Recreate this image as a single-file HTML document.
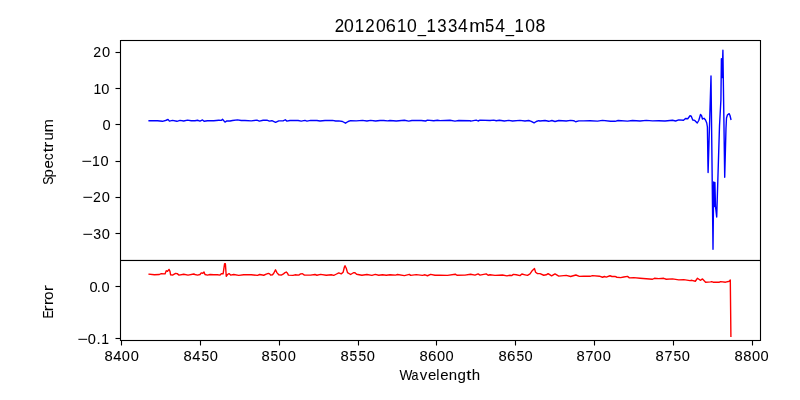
<!DOCTYPE html><html><head><meta charset="utf-8"><title>20120610_1334m54_108</title><style>html,body{margin:0;padding:0;background:#fff;}svg{display:block;will-change:transform;}text{font-family:"Liberation Sans",sans-serif;fill:#000;stroke:#000;stroke-width:0.05px;}</style></head><body>
<svg width="800" height="400" viewBox="0 0 800 400">
<rect x="0" y="0" width="800" height="400" fill="#fff"/>
<defs><clipPath id="c1"><rect x="120" y="40" width="640" height="220"/></clipPath><clipPath id="c2"><rect x="120" y="260" width="640" height="80"/></clipPath></defs>
<polyline clip-path="url(#c1)" points="149.09,120.70 157.50,120.70 162.50,121.30 166.25,120.25 168.00,119.40 169.40,121.10 172.50,120.40 176.90,121.30 180.00,120.40 183.75,121.00 187.50,120.10 191.25,120.70 195.00,120.70 197.50,120.25 200.00,121.10 202.50,119.90 204.10,121.30 207.50,120.70 213.75,120.70 218.75,120.25 221.25,120.40 222.50,119.25 225.00,122.10 226.90,120.90 230.00,121.00 232.50,120.50 237.50,119.90 241.25,120.50 245.00,120.50 251.25,120.90 256.90,120.10 259.40,121.10 263.10,120.25 266.90,120.10 269.40,121.10 271.90,120.70 275.60,122.40 278.75,120.90 283.10,120.90 285.30,119.75 286.90,121.10 290.00,120.50 295.00,120.50 298.10,120.50 301.25,121.10 305.00,120.40 306.90,121.10 310.60,120.40 316.90,120.50 320.00,121.00 325.00,120.50 332.50,120.40 335.60,121.00 338.75,120.90 342.50,121.50 345.50,123.20 348.10,121.50 350.60,120.70 356.25,120.90 362.50,120.40 366.90,121.00 370.60,120.40 375.60,121.00 380.00,120.50 383.75,120.50 387.50,120.90 390.00,120.50 396.25,121.00 404.40,120.25 408.75,121.10 411.90,120.50 421.25,120.50 425.60,121.00 427.50,120.10 433.75,120.70 437.50,120.25 440.00,120.60 450.00,120.25 455.00,121.10 458.75,120.50 470.00,120.70 470.60,121.10 476.25,120.10 478.10,121.00 480.00,120.10 490.00,120.50 493.75,120.10 496.25,120.70 499.40,120.25 504.40,121.00 508.75,120.40 512.50,121.00 520.00,120.40 525.00,121.00 528.75,120.50 531.25,121.30 534.10,122.90 536.25,121.50 538.75,120.70 540.00,121.00 545.00,120.50 548.75,121.30 551.90,120.50 555.00,121.50 558.75,120.50 566.25,121.00 570.60,120.40 573.75,120.70 575.60,121.75 578.75,120.90 583.75,120.90 590.00,120.70 597.50,121.10 602.50,120.40 610.60,121.30 615.00,121.30 618.10,120.50 627.50,121.10 632.50,120.50 640.00,120.95 646.25,120.40 652.50,120.90 658.75,120.70 665.00,121.00 672.50,120.25 675.60,121.00 678.75,119.90 683.50,120.25 685.50,118.50 687.75,118.75 690.00,115.75 691.25,116.25 692.75,120.00 694.75,120.40 697.25,123.00 698.75,120.50 700.50,114.50 701.50,115.50 702.50,119.00 704.00,118.25 705.50,120.00 706.75,123.00 707.40,127.00 707.60,140.00 707.90,162.00 708.10,172.60 711.00,76.00 713.00,249.30 713.70,182.00 714.30,206.50 714.90,182.50 715.50,206.50 716.70,217.00 719.50,126.00 720.90,100.00 721.40,58.80 722.10,77.50 722.90,50.30 724.70,177.30 726.00,128.00 726.50,118.00 727.50,114.80 729.20,113.70 730.00,115.50 730.91,119.30" fill="none" stroke="#0000ff" stroke-width="1.39" stroke-linejoin="round" stroke-linecap="square"/>
<polyline clip-path="url(#c2)" points="149.09,274.20 154.40,274.80 159.40,274.50 161.25,273.60 165.00,273.90 166.25,270.75 167.50,271.40 169.00,269.40 170.00,271.40 170.60,274.80 172.50,275.10 175.60,273.40 177.20,273.60 179.00,275.10 183.75,274.20 188.00,275.10 193.75,274.00 195.00,274.50 197.50,275.10 200.00,274.50 201.25,272.90 202.80,273.25 204.00,272.00 205.00,274.50 207.50,275.10 210.00,274.50 213.75,274.80 217.50,274.80 220.00,275.10 221.60,273.60 223.10,273.90 224.60,263.64 225.40,263.70 226.25,276.30 227.50,274.50 229.00,273.60 230.60,275.10 233.75,274.50 238.75,275.40 243.75,274.80 251.25,274.80 257.50,275.40 259.70,274.50 263.75,275.25 266.25,274.20 268.40,273.40 269.70,273.90 270.60,275.10 272.50,274.80 273.75,273.25 275.50,269.80 276.90,272.60 278.75,274.80 281.25,275.10 283.10,274.20 284.70,272.90 286.25,272.00 287.50,273.25 288.40,275.10 293.00,275.40 295.00,274.80 298.75,275.10 300.60,273.90 302.50,273.75 304.40,275.10 310.60,275.10 315.00,274.50 316.90,275.25 320.60,274.40 326.25,275.25 331.25,274.80 333.75,275.40 335.60,274.50 338.75,272.90 341.25,273.90 343.10,272.30 344.40,267.00 345.00,265.75 346.25,268.25 347.50,272.60 350.60,274.50 353.40,272.75 355.00,272.75 356.60,274.20 361.90,275.25 366.90,274.50 371.90,275.40 375.30,274.40 378.75,275.25 382.50,274.80 386.25,275.25 390.00,274.80 395.60,275.10 397.50,274.50 404.40,275.60 409.40,274.40 410.60,275.40 416.25,274.60 422.50,275.40 425.00,274.80 427.50,275.75 430.60,274.40 435.00,275.25 440.00,275.30 447.50,275.40 455.30,274.20 456.90,275.25 465.00,275.10 470.60,274.20 475.00,275.10 478.10,273.90 480.00,275.10 486.25,273.90 488.10,275.25 490.00,274.80 495.00,275.40 502.50,275.00 506.90,275.90 510.00,275.25 511.60,275.60 513.40,274.40 516.25,274.80 520.00,275.60 521.90,274.00 525.00,274.80 527.50,275.40 530.00,273.90 531.90,271.10 534.50,268.60 535.60,272.30 537.50,273.60 540.00,273.60 543.75,275.25 546.25,274.80 548.10,273.60 551.60,275.90 555.00,273.90 558.75,276.10 566.25,275.40 570.60,276.50 575.90,275.00 579.40,276.40 583.75,276.10 590.00,276.30 592.50,275.60 599.40,276.20 602.50,277.25 604.40,276.50 606.25,277.10 610.00,275.75 611.90,276.50 615.00,276.40 616.90,277.25 620.60,277.60 623.75,277.00 627.50,276.40 629.40,277.90 633.75,277.60 640.00,278.20 646.25,278.75 652.50,279.25 654.40,278.30 658.75,278.60 663.75,278.30 666.25,279.25 672.50,278.90 678.75,279.90 683.75,279.60 690.00,280.60 691.90,280.30 695.30,281.25 697.50,278.25 700.30,280.30 702.50,278.90 705.60,282.20 710.60,281.90 711.60,281.60 713.10,282.20 719.40,282.20 720.60,281.60 725.60,282.20 729.40,281.25 730.30,280.00 730.91,336.36" fill="none" stroke="#ff0000" stroke-width="1.39" stroke-linejoin="round" stroke-linecap="square"/>
<path d="M119.9445 40.5H761.0556M119.9445 260.5H761.0556M120.5 39.9445V261.0555M760.5 39.9445V261.0555M119.9445 260.5H761.0556M119.9445 340.5H761.0556M120.5 259.9445V341.0555M760.5 259.9445V341.0555" fill="none" stroke="#000" stroke-width="1.1111" stroke-linecap="butt"/>
<g fill="#000"><rect x="121" y="39" width="639" height="1" fill-opacity="0.055"/><rect x="121" y="41" width="639" height="1" fill-opacity="0.055"/><rect x="121" y="259" width="639" height="1" fill-opacity="0.11"/><rect x="121" y="261" width="639" height="1" fill-opacity="0.055"/><rect x="121" y="339" width="639" height="1" fill-opacity="0.055"/><rect x="121" y="341" width="639" height="1" fill-opacity="0.055"/><rect x="115.5" y="51" width="4.5" height="1" fill-opacity="0.055"/><rect x="115.5" y="53" width="4.5" height="1" fill-opacity="0.055"/><rect x="115.5" y="87" width="4.5" height="1" fill-opacity="0.055"/><rect x="115.5" y="89" width="4.5" height="1" fill-opacity="0.055"/><rect x="115.5" y="123" width="4.5" height="1" fill-opacity="0.055"/><rect x="115.5" y="125" width="4.5" height="1" fill-opacity="0.055"/><rect x="115.5" y="160" width="4.5" height="1" fill-opacity="0.055"/><rect x="115.5" y="162" width="4.5" height="1" fill-opacity="0.055"/><rect x="115.5" y="196" width="4.5" height="1" fill-opacity="0.055"/><rect x="115.5" y="198" width="4.5" height="1" fill-opacity="0.055"/><rect x="115.5" y="232" width="4.5" height="1" fill-opacity="0.055"/><rect x="115.5" y="234" width="4.5" height="1" fill-opacity="0.055"/><rect x="115.5" y="285" width="4.5" height="1" fill-opacity="0.055"/><rect x="115.5" y="287" width="4.5" height="1" fill-opacity="0.055"/><rect x="115.5" y="337" width="4.5" height="1" fill-opacity="0.055"/><rect x="115.5" y="339" width="4.5" height="1" fill-opacity="0.055"/></g>
<path d="M115.5 52.5H120.5M115.5 88.5H120.5M115.5 124.5H120.5M115.5 161.5H120.5M115.5 197.5H120.5M115.5 233.5H120.5M115.5 286.5H120.5M115.5 338.5H120.5M121.5 340.5V345.5M200.5 340.5V345.5M279.5 340.5V345.5M358.5 340.5V345.5M436.5 340.5V345.5M515.5 340.5V345.5M594.5 340.5V345.5M673.5 340.5V345.5M752.5 340.5V345.5" fill="none" stroke="#000" stroke-width="1.1111" stroke-linecap="butt"/>
<text y="32.00" font-size="17.66"><tspan x="334.63" y="32.00" textLength="9.42" lengthAdjust="spacingAndGlyphs">2</tspan><tspan x="343.99" y="32.00" textLength="9.77" lengthAdjust="spacingAndGlyphs">0</tspan><tspan x="354.65" y="32.00" textLength="9.33" lengthAdjust="spacingAndGlyphs">1</tspan><tspan x="365.20" y="32.00" textLength="9.42" lengthAdjust="spacingAndGlyphs">2</tspan><tspan x="375.99" y="32.00" textLength="9.77" lengthAdjust="spacingAndGlyphs">0</tspan><tspan x="385.84" y="32.00" textLength="10.11" lengthAdjust="spacingAndGlyphs">6</tspan><tspan x="396.93" y="32.00" textLength="9.33" lengthAdjust="spacingAndGlyphs">1</tspan><tspan x="406.91" y="32.00" textLength="9.77" lengthAdjust="spacingAndGlyphs">0</tspan><tspan x="417.63" y="32.00" textLength="8.27" lengthAdjust="spacingAndGlyphs">_</tspan><tspan x="426.57" y="32.00" textLength="9.33" lengthAdjust="spacingAndGlyphs">1</tspan><tspan x="437.36" y="32.00" textLength="9.39" lengthAdjust="spacingAndGlyphs">3</tspan><tspan x="447.96" y="32.00" textLength="9.39" lengthAdjust="spacingAndGlyphs">3</tspan><tspan x="457.92" y="32.00" textLength="9.77" lengthAdjust="spacingAndGlyphs">4</tspan><tspan x="469.37" y="32.00" textLength="15.82" lengthAdjust="spacingAndGlyphs">m</tspan><tspan x="485.09" y="32.00" textLength="9.22" lengthAdjust="spacingAndGlyphs">5</tspan><tspan x="495.25" y="32.00" textLength="9.77" lengthAdjust="spacingAndGlyphs">4</tspan><tspan x="505.63" y="32.00" textLength="8.27" lengthAdjust="spacingAndGlyphs">_</tspan><tspan x="514.57" y="32.00" textLength="9.33" lengthAdjust="spacingAndGlyphs">1</tspan><tspan x="525.33" y="32.00" textLength="9.77" lengthAdjust="spacingAndGlyphs">0</tspan><tspan x="535.44" y="32.00" textLength="9.88" lengthAdjust="spacingAndGlyphs">8</tspan></text>
<text y="380.00" font-size="14.6"><tspan x="399.50" y="380.00" textLength="12.93" lengthAdjust="spacingAndGlyphs">W</tspan><tspan x="411.54" y="380.00" textLength="6.95" lengthAdjust="spacingAndGlyphs">a</tspan><tspan x="419.88" y="380.00" textLength="7.50" lengthAdjust="spacingAndGlyphs">v</tspan><tspan x="428.04" y="380.00" textLength="8.34" lengthAdjust="spacingAndGlyphs">e</tspan><tspan x="436.31" y="380.00" textLength="3.15" lengthAdjust="spacingAndGlyphs">l</tspan><tspan x="440.31" y="380.00" textLength="8.34" lengthAdjust="spacingAndGlyphs">e</tspan><tspan x="448.77" y="380.00" textLength="8.33" lengthAdjust="spacingAndGlyphs">n</tspan><tspan x="457.61" y="380.00" textLength="8.40" lengthAdjust="spacingAndGlyphs">g</tspan><tspan x="466.21" y="380.00" textLength="5.16" lengthAdjust="spacingAndGlyphs">t</tspan><tspan x="471.70" y="380.00" textLength="8.39" lengthAdjust="spacingAndGlyphs">h</tspan></text>
<text transform="rotate(-90)" y="53.00" font-size="14.6"><tspan x="-184.77" y="53.00" textLength="8.26" lengthAdjust="spacingAndGlyphs">S</tspan><tspan x="-177.62" y="53.00" textLength="8.40" lengthAdjust="spacingAndGlyphs">p</tspan><tspan x="-168.50" y="53.00" textLength="8.34" lengthAdjust="spacingAndGlyphs">e</tspan><tspan x="-160.21" y="53.00" textLength="6.97" lengthAdjust="spacingAndGlyphs">c</tspan><tspan x="-152.47" y="53.00" textLength="5.16" lengthAdjust="spacingAndGlyphs">t</tspan><tspan x="-147.80" y="53.00" textLength="5.93" lengthAdjust="spacingAndGlyphs">r</tspan><tspan x="-140.46" y="53.00" textLength="8.33" lengthAdjust="spacingAndGlyphs">u</tspan><tspan x="-132.31" y="53.00" textLength="13.18" lengthAdjust="spacingAndGlyphs">m</tspan></text>
<text transform="rotate(-90)" y="53.00" font-size="14.6"><tspan x="-318.59" y="53.00" textLength="8.03" lengthAdjust="spacingAndGlyphs">E</tspan><tspan x="-311.56" y="53.00" textLength="5.93" lengthAdjust="spacingAndGlyphs">r</tspan><tspan x="-305.20" y="53.00" textLength="5.93" lengthAdjust="spacingAndGlyphs">r</tspan><tspan x="-299.81" y="53.00" textLength="8.21" lengthAdjust="spacingAndGlyphs">o</tspan><tspan x="-291.20" y="53.00" textLength="5.93" lengthAdjust="spacingAndGlyphs">r</tspan></text>
<text y="361.00" font-size="14.72"><tspan x="104.54" y="361.00" textLength="8.23" lengthAdjust="spacingAndGlyphs">8</tspan><tspan x="113.16" y="361.00" textLength="8.14" lengthAdjust="spacingAndGlyphs">4</tspan><tspan x="121.86" y="361.00" textLength="8.14" lengthAdjust="spacingAndGlyphs">0</tspan><tspan x="130.71" y="361.00" textLength="8.14" lengthAdjust="spacingAndGlyphs">0</tspan></text>
<text y="361.00" font-size="14.72"><tspan x="183.54" y="361.00" textLength="8.23" lengthAdjust="spacingAndGlyphs">8</tspan><tspan x="192.16" y="361.00" textLength="8.14" lengthAdjust="spacingAndGlyphs">4</tspan><tspan x="201.40" y="361.00" textLength="7.69" lengthAdjust="spacingAndGlyphs">5</tspan><tspan x="209.71" y="361.00" textLength="8.14" lengthAdjust="spacingAndGlyphs">0</tspan></text>
<text y="361.00" font-size="14.72"><tspan x="261.54" y="361.00" textLength="8.23" lengthAdjust="spacingAndGlyphs">8</tspan><tspan x="270.42" y="361.00" textLength="7.69" lengthAdjust="spacingAndGlyphs">5</tspan><tspan x="278.86" y="361.00" textLength="8.14" lengthAdjust="spacingAndGlyphs">0</tspan><tspan x="287.71" y="361.00" textLength="8.14" lengthAdjust="spacingAndGlyphs">0</tspan></text>
<text y="361.00" font-size="14.72"><tspan x="340.54" y="361.00" textLength="8.23" lengthAdjust="spacingAndGlyphs">8</tspan><tspan x="349.42" y="361.00" textLength="7.69" lengthAdjust="spacingAndGlyphs">5</tspan><tspan x="358.40" y="361.00" textLength="7.69" lengthAdjust="spacingAndGlyphs">5</tspan><tspan x="366.71" y="361.00" textLength="8.14" lengthAdjust="spacingAndGlyphs">0</tspan></text>
<text y="361.00" font-size="14.72"><tspan x="419.54" y="361.00" textLength="8.23" lengthAdjust="spacingAndGlyphs">8</tspan><tspan x="427.97" y="361.00" textLength="8.43" lengthAdjust="spacingAndGlyphs">6</tspan><tspan x="437.11" y="361.00" textLength="8.14" lengthAdjust="spacingAndGlyphs">0</tspan><tspan x="445.62" y="361.00" textLength="8.14" lengthAdjust="spacingAndGlyphs">0</tspan></text>
<text y="361.00" font-size="14.72"><tspan x="498.54" y="361.00" textLength="8.23" lengthAdjust="spacingAndGlyphs">8</tspan><tspan x="506.97" y="361.00" textLength="8.43" lengthAdjust="spacingAndGlyphs">6</tspan><tspan x="516.42" y="361.00" textLength="7.69" lengthAdjust="spacingAndGlyphs">5</tspan><tspan x="524.62" y="361.00" textLength="8.14" lengthAdjust="spacingAndGlyphs">0</tspan></text>
<text y="361.00" font-size="14.72"><tspan x="576.54" y="361.00" textLength="8.23" lengthAdjust="spacingAndGlyphs">8</tspan><tspan x="585.42" y="361.00" textLength="7.97" lengthAdjust="spacingAndGlyphs">7</tspan><tspan x="593.86" y="361.00" textLength="8.14" lengthAdjust="spacingAndGlyphs">0</tspan><tspan x="602.71" y="361.00" textLength="8.14" lengthAdjust="spacingAndGlyphs">0</tspan></text>
<text y="361.00" font-size="14.72"><tspan x="655.54" y="361.00" textLength="8.23" lengthAdjust="spacingAndGlyphs">8</tspan><tspan x="664.42" y="361.00" textLength="7.97" lengthAdjust="spacingAndGlyphs">7</tspan><tspan x="673.40" y="361.00" textLength="7.69" lengthAdjust="spacingAndGlyphs">5</tspan><tspan x="681.71" y="361.00" textLength="8.14" lengthAdjust="spacingAndGlyphs">0</tspan></text>
<text y="361.00" font-size="14.72"><tspan x="734.54" y="361.00" textLength="8.23" lengthAdjust="spacingAndGlyphs">8</tspan><tspan x="743.13" y="361.00" textLength="8.23" lengthAdjust="spacingAndGlyphs">8</tspan><tspan x="752.11" y="361.00" textLength="8.14" lengthAdjust="spacingAndGlyphs">0</tspan><tspan x="760.62" y="361.00" textLength="8.14" lengthAdjust="spacingAndGlyphs">0</tspan></text>
<text y="57.00" font-size="14.72"><tspan x="93.31" y="57.00" textLength="7.85" lengthAdjust="spacingAndGlyphs">2</tspan><tspan x="102.11" y="57.00" textLength="8.14" lengthAdjust="spacingAndGlyphs">0</tspan></text>
<text y="94.00" font-size="14.72"><tspan x="93.46" y="94.00" textLength="7.78" lengthAdjust="spacingAndGlyphs">1</tspan><tspan x="101.16" y="94.00" textLength="8.14" lengthAdjust="spacingAndGlyphs">0</tspan></text>
<text y="130.00" font-size="14.72"><tspan x="102.52" y="130.00" textLength="8.14" lengthAdjust="spacingAndGlyphs">0</tspan></text>
<text y="166.00" font-size="14.72"><tspan x="81.54" y="166.00" textLength="10.45" lengthAdjust="spacingAndGlyphs">−</tspan><tspan x="92.06" y="166.00" textLength="7.78" lengthAdjust="spacingAndGlyphs">1</tspan><tspan x="100.62" y="166.00" textLength="8.14" lengthAdjust="spacingAndGlyphs">0</tspan></text>
<text y="202.00" font-size="14.72"><tspan x="82.54" y="202.00" textLength="10.45" lengthAdjust="spacingAndGlyphs">−</tspan><tspan x="93.12" y="202.00" textLength="7.85" lengthAdjust="spacingAndGlyphs">2</tspan><tspan x="101.71" y="202.00" textLength="8.14" lengthAdjust="spacingAndGlyphs">0</tspan></text>
<text y="239.00" font-size="14.72"><tspan x="82.54" y="239.00" textLength="10.45" lengthAdjust="spacingAndGlyphs">−</tspan><tspan x="93.29" y="239.00" textLength="7.82" lengthAdjust="spacingAndGlyphs">3</tspan><tspan x="101.71" y="239.00" textLength="8.14" lengthAdjust="spacingAndGlyphs">0</tspan></text>
<text y="292.00" font-size="14.72"><tspan x="89.52" y="292.00" textLength="8.14" lengthAdjust="spacingAndGlyphs">0</tspan><tspan x="96.89" y="292.00" textLength="4.18" lengthAdjust="spacingAndGlyphs">.</tspan><tspan x="101.49" y="292.00" textLength="8.14" lengthAdjust="spacingAndGlyphs">0</tspan></text>
<text y="344.00" font-size="14.72"><tspan x="77.54" y="344.00" textLength="10.45" lengthAdjust="spacingAndGlyphs">−</tspan><tspan x="87.86" y="344.00" textLength="8.14" lengthAdjust="spacingAndGlyphs">0</tspan><tspan x="96.41" y="344.00" textLength="4.18" lengthAdjust="spacingAndGlyphs">.</tspan><tspan x="101.25" y="344.00" textLength="7.78" lengthAdjust="spacingAndGlyphs">1</tspan></text>
</svg></body></html>
